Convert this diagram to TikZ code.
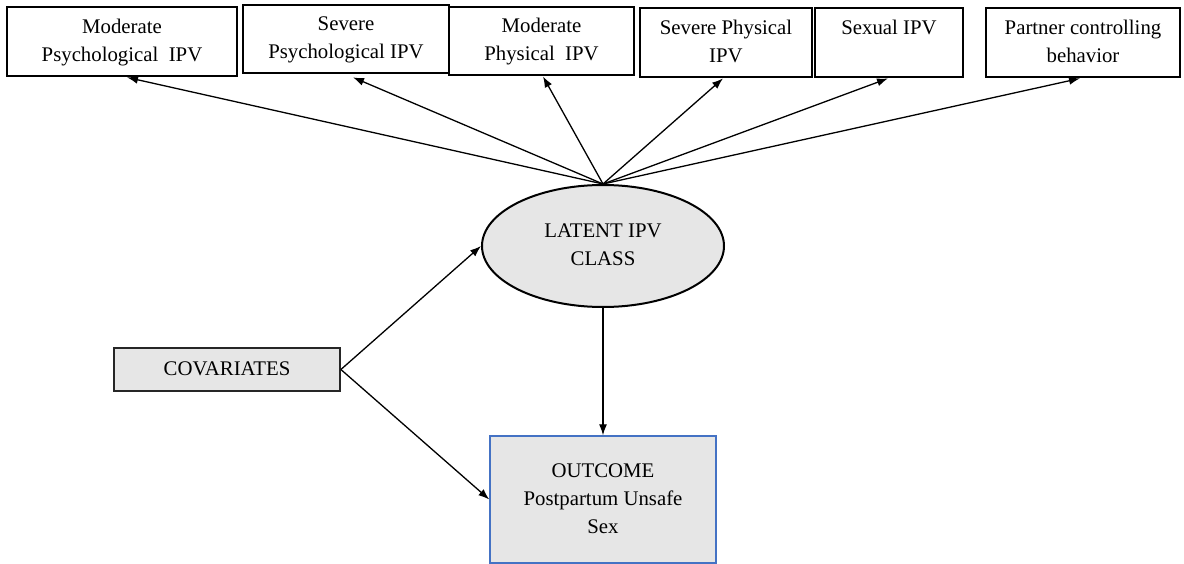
\documentclass[tikz,border=0pt]{standalone}
\usepackage{fontspec}
\setmainfont{Liberation Serif}
\usetikzlibrary{shapes.geometric,arrows.meta}

\begin{document}
\begin{tikzpicture}[x=1pt,y=-1pt,
  every node/.style={font=\fontsize{20.8}{28}\selectfont, align=center, inner sep=0pt},
  indbox/.style={draw=black, line width=2.8pt, rectangle, fill=white},
  covbox/.style={draw=black!85, line width=1.8pt, rectangle, fill=boxgray},
  outbox/.style={draw=outblue, line width=1.4pt, rectangle, fill=boxgray},
  latent/.style={draw=black, line width=2pt, ellipse, fill=boxgray},
  arr/.style={line width=1.3pt, -{Latex[length=11pt,width=8pt]}}
]
\definecolor{boxgray}{HTML}{E6E6E6}
\definecolor{outblue}{HTML}{4472C4}

% canvas
\useasboundingbox (0,0) rectangle (1184,564);
\fill[white] (0,0) rectangle (1184,564);

% indicator boxes
\node[indbox, minimum width=230pt, minimum height=69pt] (b1) at (122,41.5)
  {\strut Moderate\\\strut Psychological\ \ IPV};
\node[indbox, minimum width=206pt, minimum height=68pt] (b2) at (346,39)
  {\strut Severe\\\strut Psychological IPV};
\node[indbox, minimum width=185pt, minimum height=68pt] (b3) at (541.5,41)
  {\strut Moderate\\\strut Physical\ \ IPV};
\node[indbox, minimum width=172pt, minimum height=69pt] (b4) at (726,42.5)
  {\strut Severe Physical\\\strut IPV};
\node[indbox, minimum width=148pt, minimum height=69pt] (b5) at (889,42.5)
  {\strut Sexual IPV\\\strut};
\node[indbox, minimum width=194pt, minimum height=69pt] (b6) at (1083,42.5)
  {\strut Partner controlling\\\strut behavior};

% latent class
\node[latent, minimum width=242pt, minimum height=122pt] (lat) at (603,246)
  {\strut LATENT IPV\\\strut CLASS};

% covariates and outcome
\node[covbox, minimum width=226pt, minimum height=43pt] (cov) at (227,369.5)
  {\strut COVARIATES};
\node[outbox, minimum width=226pt, minimum height=127pt] (out) at (603,499.5)
  {\strut OUTCOME\\\strut Postpartum Unsafe\\\strut Sex};

% measurement paths
\draw[arr] (lat.north) -- ([xshift=5pt]b1.south);
\draw[arr] (lat.north) -- ([xshift=7pt,yshift=-3pt]b2.south);
\draw[arr] (lat.north) -- ([xshift=1.5pt]b3.south);
\draw[arr] (lat.north) -- ([xshift=-3pt]b4.south);
\draw[arr] (lat.north) -- ([xshift=-1pt]b5.south);
\draw[arr] (lat.north) -- ([xshift=-3pt]b6.south);

% structural paths
\draw[arr] (cov.east) -- (lat.west);
\draw[arr] (cov.east) -- (out.west);
\draw[arr] (lat.south) -- (out.north);
\end{tikzpicture}
\end{document}
